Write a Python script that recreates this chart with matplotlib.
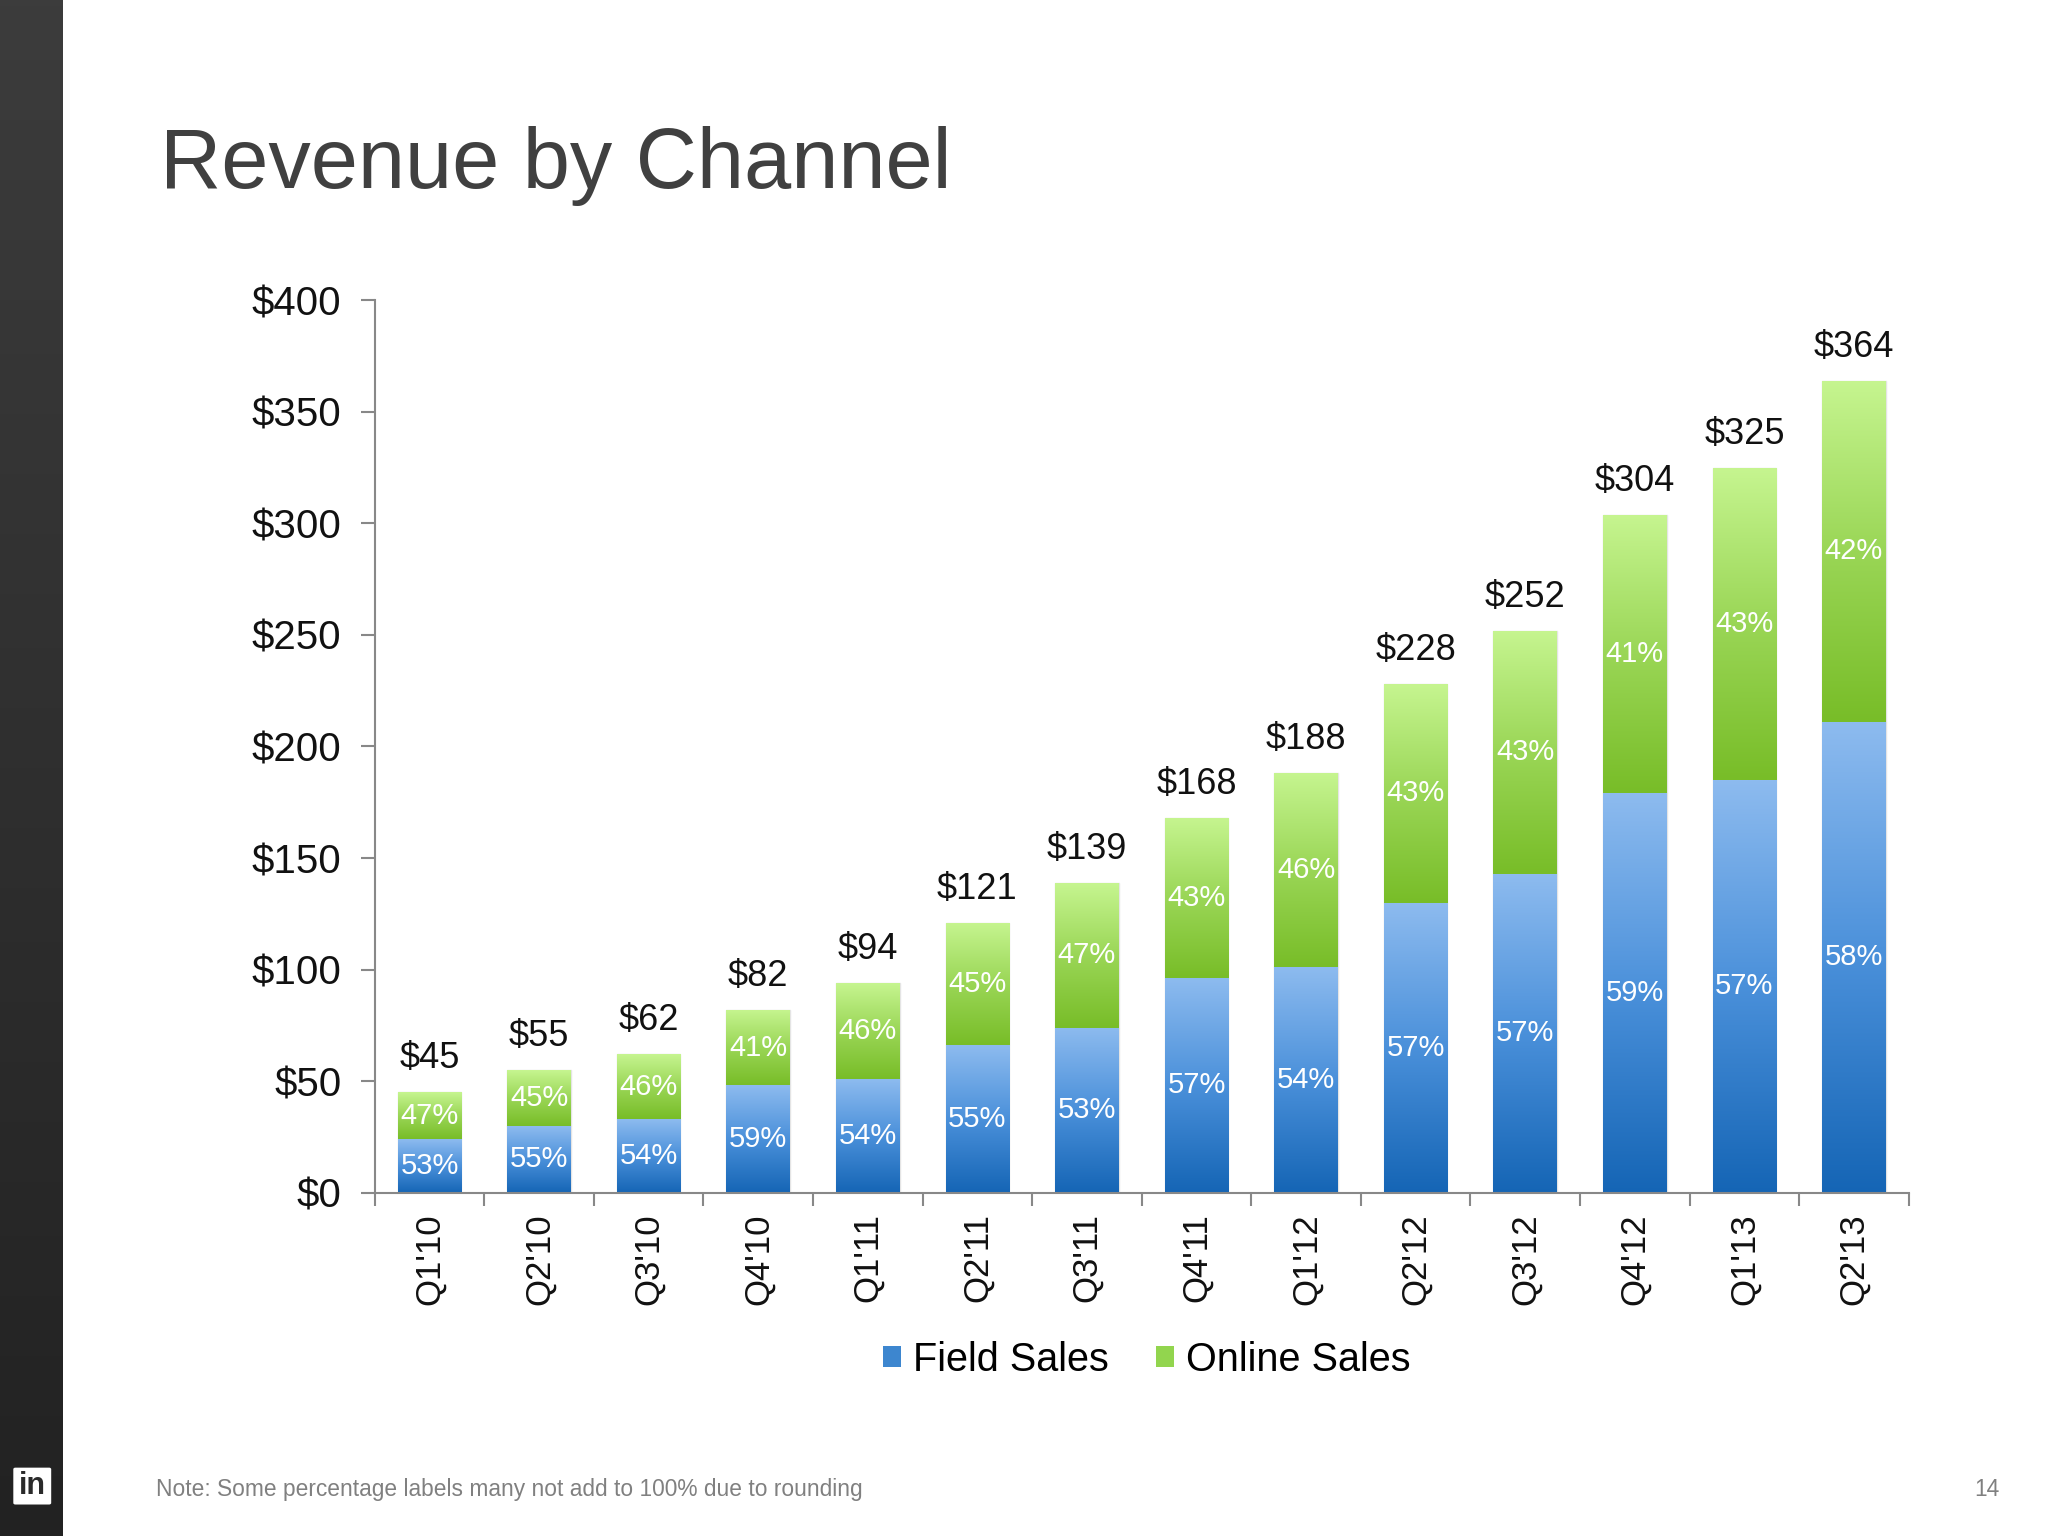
import matplotlib
matplotlib.use("Agg")
import matplotlib.pyplot as plt
import numpy as np
from matplotlib.colors import LinearSegmentedColormap
from matplotlib.patches import Patch, FancyBboxPatch, Rectangle

quarters = ["Q1'10", "Q2'10", "Q3'10", "Q4'10", "Q1'11", "Q2'11", "Q3'11",
            "Q4'11", "Q1'12", "Q2'12", "Q3'12", "Q4'12", "Q1'13", "Q2'13"]
totals = [45, 55, 62, 82, 94, 121, 139, 168, 188, 228, 252, 304, 325, 364]
field_sales = [24, 30, 33, 48, 51, 66, 74, 96, 101, 130, 143, 179, 185, 211]
online_sales = [21, 25, 29, 34, 43, 55, 65, 72, 87, 98, 109, 125, 140, 153]
field_pct = ["53%", "55%", "54%", "59%", "54%", "55%", "53%", "57%", "54%",
             "57%", "57%", "59%", "57%", "58%"]
online_pct = ["47%", "45%", "46%", "41%", "46%", "45%", "47%", "43%", "46%",
              "43%", "43%", "41%", "43%", "42%"]
yticks = [0, 50, 100, 150, 200, 250, 300, 350, 400]

plt.rcParams['font.family'] = ['Liberation Sans', 'DejaVu Sans']

fig = plt.figure(figsize=(20.48, 15.36), dpi=100)
fig.patch.set_facecolor('white')

# left dark strip
strip = fig.add_axes([0, 0, 0.0306, 1])
grad = np.linspace(0, 1, 256).reshape(-1, 1)
strip.imshow(grad, aspect='auto', cmap=LinearSegmentedColormap.from_list('s', ['#3c3c3c', '#222222']),
             extent=(0, 1, 0, 1))
strip.set_axis_off()
# linkedin logo
fig.patches.append(FancyBboxPatch((0.0075, 0.0215), 0.0165, 0.022, boxstyle="round,pad=0.001",
                                  transform=fig.transFigure, facecolor='white', edgecolor='none'))
fig.text(0.0158, 0.0325, "in", color='#2a2a2a', fontsize=22, fontweight='bold',
         ha='center', va='center')

ax = fig.add_axes([0.183, 0.2236, 0.749, 0.5808])
x = np.arange(len(quarters))
w = 0.58

blue_cmap = LinearSegmentedColormap.from_list('b', ['#1565b5', '#4a90da', '#8dbbef'])
green_cmap = LinearSegmentedColormap.from_list('g', ['#78bd28', '#9ad656', '#c6f590'])

b1 = ax.bar(x, field_sales, w, color='none', edgecolor='none', zorder=2)
b2 = ax.bar(x, online_sales, w, bottom=field_sales, color='none', edgecolor='none', zorder=2)

gv = np.linspace(0, 1, 256).reshape(-1, 1)
for bars, cmap in ((b1, blue_cmap), (b2, green_cmap)):
    for r in bars:
        x0, y0 = r.get_x(), r.get_y()
        im = ax.imshow(gv, cmap=cmap, aspect='auto', origin='lower',
                       extent=(x0, x0 + r.get_width(), y0, y0 + r.get_height()), zorder=2)
        im.set_clip_path(r)
        ax.add_patch(Rectangle((x0, y0), r.get_width(), r.get_height(), fill=False,
                               edgecolor='#e4e4e4', linewidth=1.0, zorder=1.5))

for i in range(len(quarters)):
    ax.text(x[i], field_sales[i] / 2, field_pct[i], color='white', fontsize=21,
            ha='center', va='center', zorder=3)
    ax.text(x[i], field_sales[i] + online_sales[i] / 2, online_pct[i], color='white',
            fontsize=21, ha='center', va='center', zorder=3)
    ax.annotate(f"${totals[i]}", (x[i], totals[i]), xytext=(0, 24), textcoords='offset points',
                ha='center', va='center', fontsize=26, color='#111111')

ax.set_xlim(-0.5, len(quarters) - 0.5)
ax.set_ylim(0, 400)
ax.set_yticks(yticks)
ax.set_yticklabels([f"${v}" for v in yticks], fontsize=29, color='#111111')
ax.set_xticks(x)
ax.set_xticklabels(quarters, rotation=90, fontsize=25, color='#111111')
ax.set_xticks(np.arange(-0.5, len(quarters)), minor=True)
ax.tick_params(axis='x', which='major', length=0, pad=15)
ax.tick_params(axis='x', which='minor', length=9, width=1.5, color='#888888', direction='out')
ax.tick_params(axis='y', length=10, width=1.5, color='#888888', pad=14)
for s in ('top', 'right'):
    ax.spines[s].set_visible(False)
for s in ('left', 'bottom'):
    ax.spines[s].set_color('#888888')
    ax.spines[s].set_linewidth(1.5)
ax.set_facecolor('none')

handles = [Patch(facecolor='#3d86cf', edgecolor='none', label='Field Sales'),
           Patch(facecolor='#92d54e', edgecolor='none', label='Online Sales')]
fig.legend(handles=handles, loc='center', bbox_to_anchor=(0.56, 0.1148), ncol=2, frameon=False,
           fontsize=28.5, handlelength=0.45, handleheight=0.45, handletextpad=0.3,
           columnspacing=1.2)

fig.text(0.078, 0.892, "Revenue by Channel", fontsize=61, color='#404040', ha='left', va='center')
fig.text(0.076, 0.0305, "Note: Some percentage labels many not add to 100% due to rounding",
         fontsize=16.4, color='#808080', ha='left', va='center')
fig.text(0.9765, 0.0305, "14", fontsize=16.4, color='#808080', ha='right', va='center')

fig.savefig("out.png", dpi=100)
